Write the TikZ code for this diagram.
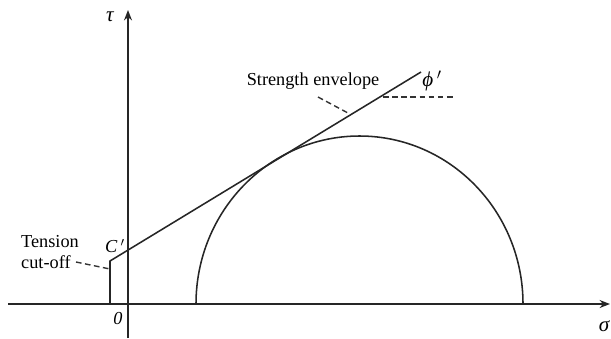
\documentclass[tikz,border=0pt]{standalone}
\usepackage{fontspec}
\setmainfont{Liberation Serif}
\usetikzlibrary{arrows.meta,positioning}
\tikzset{
  axis/.style={line width=1.1pt, draw=black!85, -{Stealth[length=2.6mm,width=2mm]}},
  envelope/.style={line width=1.1pt, draw=black!85},
  leader/.style={dashed, dash pattern=on 4pt off 2.5pt, line width=1pt, draw=black!80},
  lbl/.style={font=\fontsize{13}{15}\selectfont, inner sep=1pt, align=left},
  greek/.style={font=\fontsize{15}{17}\selectfont\itshape, inner sep=1pt}
}

\begin{document}
\begin{tikzpicture}[x=0.025cm, y=-0.025cm]
  \useasboundingbox (0,0) rectangle (611,338);
  % axes
  \coordinate (xs) at (8,304);
  \coordinate (xe) at (610,304);
  \coordinate (ys) at (128,338);
  \coordinate (ye) at (128,10);
  \draw[axis] (xs) -- (xe);
  \draw[axis] (ys) -- (ye);
  \node[greek] (tau) at (110,17) {τ};
  \node[greek] (sig) at (604,326) {σ};
  \node[lbl] (zero) at (118,319) {\textit{0}};

  % Mohr circle
  \coordinate (cl) at (196,304);
  \draw[envelope] (cl) arc[start angle=180, end angle=360, x radius=163.5, y radius=168];

  % strength envelope with tension cut-off
  \coordinate (cut) at (110,304);
  \coordinate (c0) at (110,261);
  \coordinate (e1) at (421,72);
  \draw[envelope] (cut) -- (c0) -- (e1);
  \node[lbl] (cc) at (115,246) {\textit{C}\,$'$};

  \node[lbl] (tco) at (50,252) {Tension\\cut-off};
  \coordinate (t1) at (76,262);
  \coordinate (t2) at (110,269);
  \draw[leader] (t1) -- (t2);

  \node[lbl] (env) at (313,81) {Strength envelope};
  \coordinate (s1) at (318,97);
  \coordinate (s2) at (348,113);
  \draw[leader] (s1) -- (s2);

  \node[greek] (phi) at (432,81) {ϕ\,$'$};
  \coordinate (p1) at (383,97);
  \coordinate (p2) at (453,97);
  \draw[leader] (p1) -- (p2);
\end{tikzpicture}
\end{document}
